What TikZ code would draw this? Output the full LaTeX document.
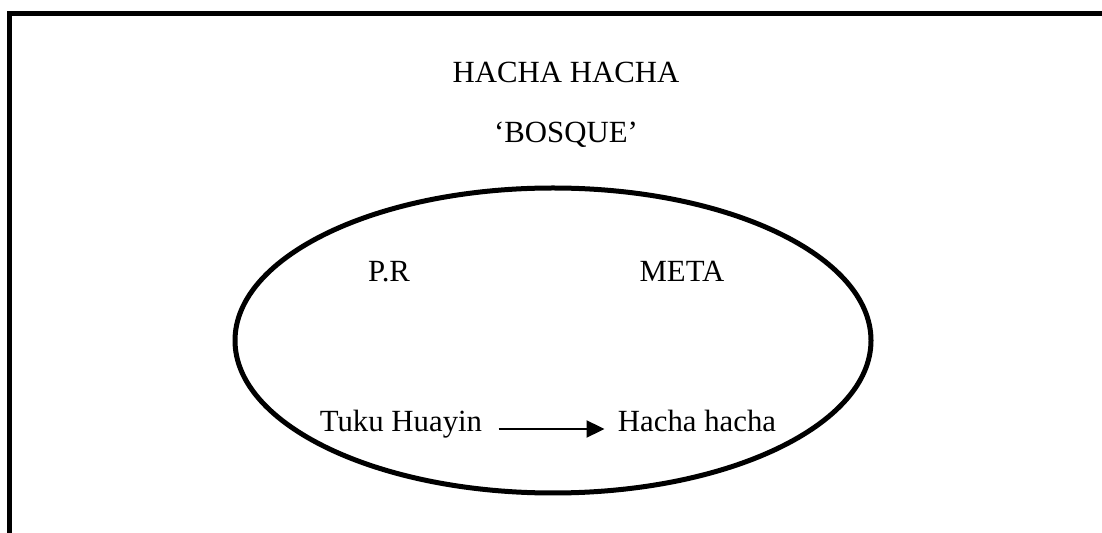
\documentclass[tikz,border=0pt]{standalone}
\usepackage{fontspec}
\setmainfont{Liberation Serif}
\usetikzlibrary{arrows.meta}
\tikzset{
  frame/.style={line width=2.6pt, line join=miter},
  oval/.style={line width=2.5pt},
  lbl/.style={inner sep=0pt, anchor=base, font=\fontsize{15.4}{18}\selectfont},
  link/.style={line width=1.1pt, -{Triangle[length=9pt,width=8.5pt]}}
}
\begin{document}
\begin{tikzpicture}[x=0.5pt,y=-0.5pt]
\useasboundingbox (0,0) rectangle (1102,533);
\draw[frame] (9.5,533) -- (9.5,13.5) -- (1102,13.5);
\draw[oval] (553,340.5) ellipse [x radius=318, y radius=152.5];
\node[lbl] (title) at (566,83) {HACHA HACHA};
\node[lbl] (bosque) at (566,143) {‘BOSQUE’};
\node[lbl] (pr) at (389,282) {P.R};
\node[lbl] (meta) at (682,282) {META};
\node[lbl] (tuku) at (401,432) {Tuku Huayin};
\node[lbl] (hacha) at (697,432) {Hacha hacha};
\draw[link] ([xshift=8pt,yshift=1.5pt]tuku.base east) -- ([xshift=-6.5pt,yshift=1.5pt]hacha.base west);
\end{tikzpicture}
\end{document}
